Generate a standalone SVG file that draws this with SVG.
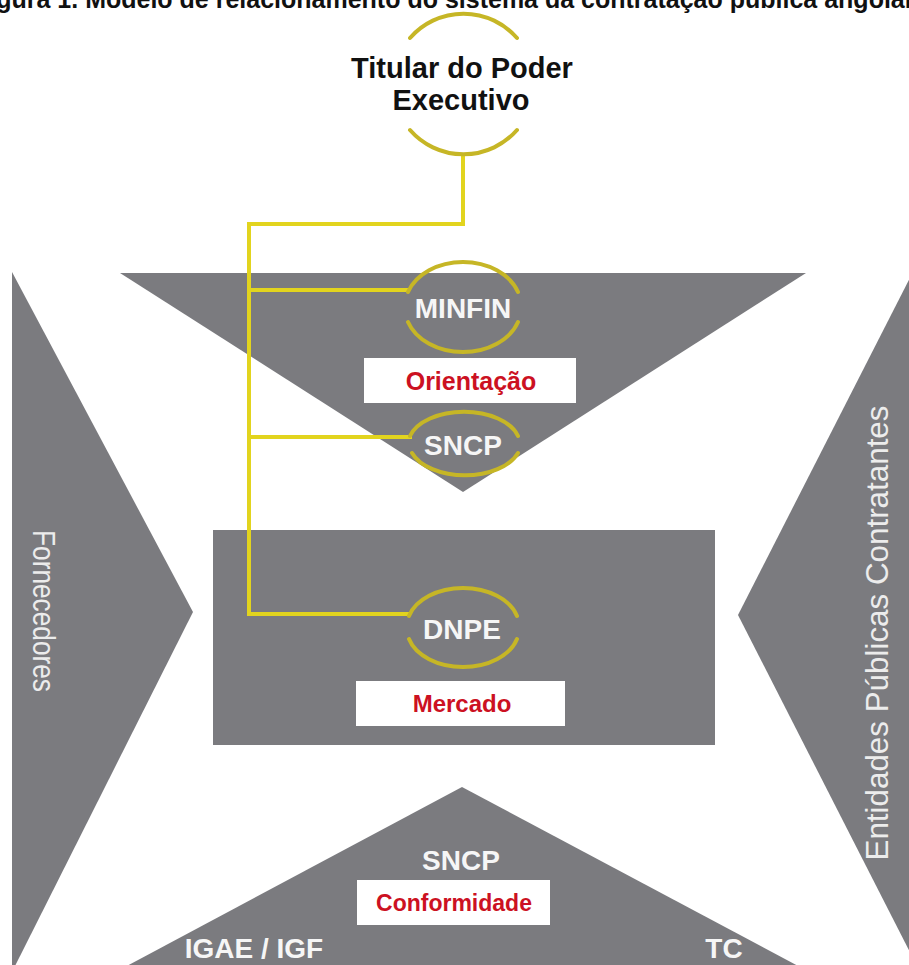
<svg xmlns="http://www.w3.org/2000/svg" width="909" height="965" viewBox="0 0 909 965">
<style>
.shape{fill:#7b7b7f}
.conn{fill:none;stroke:#e2d41e;stroke-width:4;stroke-linejoin:miter}
.arc{fill:none;stroke:#c6b626;stroke-width:4;stroke-linecap:round}
.wt{font-family:"Liberation Sans",Arial,sans-serif;font-weight:bold;font-size:28px;fill:#f6f6f6;text-anchor:middle}
.side{font-family:"Liberation Sans",Arial,sans-serif;font-size:31px;fill:#ececec;text-anchor:middle}
.box{fill:#ffffff}
.rt{font-family:"Liberation Sans",Arial,sans-serif;font-weight:bold;fill:#cc1122;text-anchor:middle}
.dark{font-family:"Liberation Sans",Arial,sans-serif;font-weight:bold;fill:#111111}
</style>
<rect width="909" height="965" fill="#ffffff"/>
<text class="dark" x="-26" y="8" font-size="25">Figura 1. Modelo de relacionamento do sistema da contratação pública angolana</text>

<g id="fornecedores">
<polygon class="shape" points="12,272 193,612 12,972"/>
<text class="side" transform="translate(33,611) rotate(90)" textLength="162" lengthAdjust="spacingAndGlyphs">Fornecedores</text>
</g>
<g id="entidades">
<polygon class="shape" points="914,270 738,615 914,960"/>
<text class="side" transform="translate(888,633) rotate(-90)" textLength="455" lengthAdjust="spacingAndGlyphs">Entidades  Públicas  Contratantes</text>
</g>
<g id="orientacao">
<polygon class="shape" points="120,273 806,273 463,492"/>
<rect class="box" x="364" y="358" width="212" height="45"/>
<text class="rt" x="471" y="390" font-size="25">Orientação</text>
</g>
<g id="mercado">
<rect class="shape" x="213" y="530" width="502" height="215"/>
<rect class="box" x="356" y="681" width="209" height="45"/>
<text class="rt" x="462" y="712" font-size="24">Mercado</text>
</g>
<g id="conformidade">
<polygon class="shape" points="462,787 110,975 815,975"/>
<rect class="box" x="357" y="880" width="193" height="45"/>
<text class="rt" x="454" y="911" font-size="23">Conformidade</text>
<text class="wt" x="461" y="870">SNCP</text>
<text class="wt" x="254" y="958">IGAE / IGF</text>
<text class="wt" x="724" y="958">TC</text>
</g>

<g id="connectors">
<path class="conn" d="M463,155 V224 H249 V614 H410"/>
<path class="conn" d="M249,290 H410"/>
<path class="conn" d="M249,437 H412"/>
</g>

<g id="titular">
<path class="arc" d="M410,38 A71,71 0 0 1 517,38"/>
<path class="arc" d="M410,130 A71,71 0 0 0 517,130"/>
<text class="dark" x="462" y="78" font-size="29" text-anchor="middle">Titular do Poder</text>
<text class="dark" x="461" y="110" font-size="29" text-anchor="middle">Executivo</text>
</g>
<g id="minfin">
<path class="arc" d="M408,292 A58,44 0 0 1 518,292"/>
<path class="arc" d="M408,322 A58,44 0 0 0 518,322"/>
<text class="wt" x="463" y="318">MINFIN</text>
</g>
<g id="sncp">
<path class="arc" d="M410,436 A56,33 0 0 1 518,436"/>
<path class="arc" d="M412,453 A56,33 0 0 0 518,453"/>
<text class="wt" x="463" y="455">SNCP</text>
</g>
<g id="dnpe">
<path class="arc" d="M409,616 A56,38 0 0 1 517,616"/>
<path class="arc" d="M409,639 A56,38 0 0 0 517,639"/>
<text class="wt" x="462" y="639">DNPE</text>
</g>
</svg>
